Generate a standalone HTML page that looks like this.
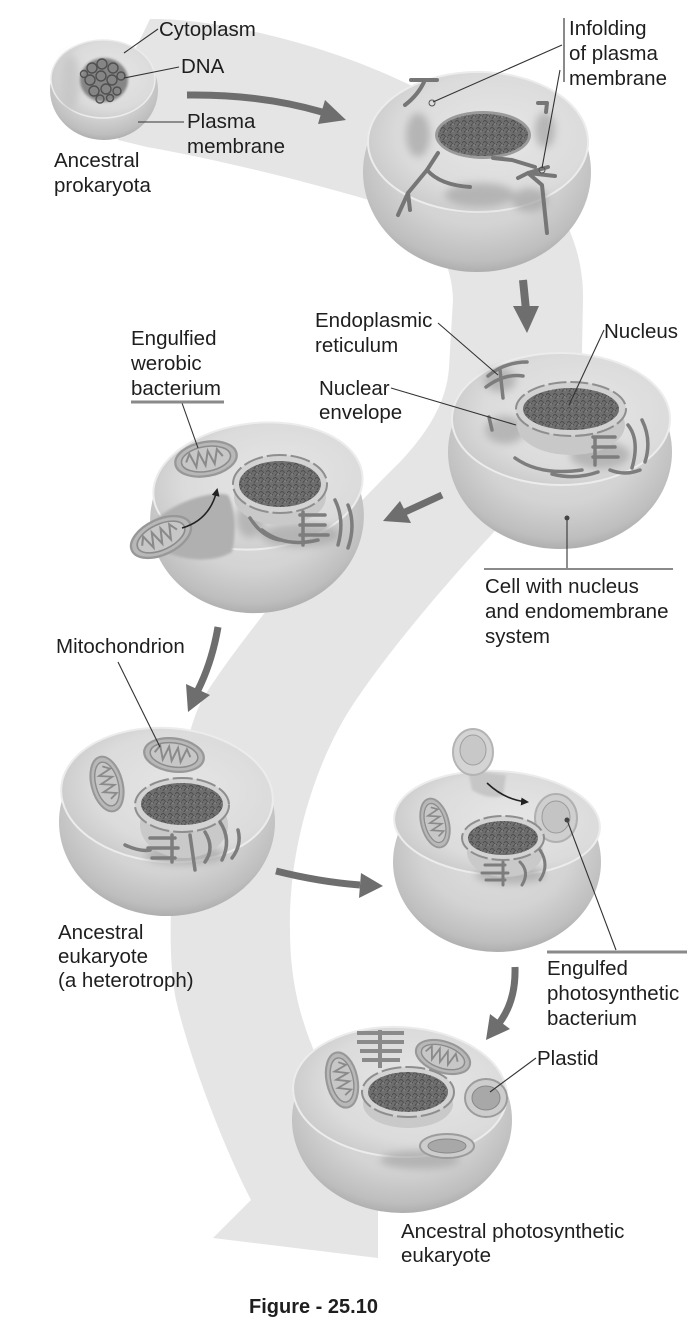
<!DOCTYPE html>
<html><head><meta charset="utf-8">
<style>
html,body{margin:0;padding:0;background:#fff;}
svg{display:block}
text{font-family:"Liberation Sans",Arial,sans-serif;font-size:20.5px;fill:#1e1e1e;}
</style></head><body>
<svg width="697" height="1321" viewBox="0 0 697 1321" xmlns="http://www.w3.org/2000/svg">
<defs>
 <radialGradient id="body" cx="0.5" cy="0.4" r="0.62">
  <stop offset="0" stop-color="#e2e2e2"/>
  <stop offset="0.6" stop-color="#d3d3d3"/>
  <stop offset="0.88" stop-color="#bebebe"/>
  <stop offset="1" stop-color="#a9a9a9"/>
 </radialGradient>
 <radialGradient id="face" cx="0.58" cy="0.45" r="0.62">
  <stop offset="0" stop-color="#e6e6e6"/>
  <stop offset="0.7" stop-color="#dbdbdb"/>
  <stop offset="1" stop-color="#c9c9c9"/>
 </radialGradient>
 <pattern id="tex" width="7" height="7" patternUnits="userSpaceOnUse">
  <rect width="7" height="7" fill="#6e6e6e"/>
  <path d="M0,3 q2,-3 4,0 t3,1 M2,7 q1,-3 3,-2" stroke="#4c4c4c" stroke-width="0.9" fill="none"/>
  <circle cx="5" cy="5" r="0.9" fill="#8c8c8c"/>
 </pattern>
 <filter id="blur" x="-50%" y="-50%" width="200%" height="200%"><feGaussianBlur stdDeviation="4"/></filter>
 <filter id="blur2" x="-50%" y="-50%" width="200%" height="200%"><feGaussianBlur stdDeviation="1.2"/></filter>
 <marker id="ah" markerWidth="8" markerHeight="8" refX="6" refY="4" orient="auto" markerUnits="userSpaceOnUse">
  <path d="M0,0 L8,4 L0,8 Z" fill="#222"/>
 </marker>
 <g id="mito">
  <ellipse rx="20" ry="11" fill="#b8b8b8" stroke="#989898" stroke-width="1.5"/>
  <ellipse rx="16" ry="8" fill="#c7c7c7" stroke="#8c8c8c" stroke-width="1"/>
  <path d="M-13,0 l3,-5 l3,9 l3,-9 l3,9 l3,-9 l3,9 l3,-9 l3,5" stroke="#8a8a8a" stroke-width="1.3" fill="none"/>
 </g>
</defs>

<!-- background band -->
<path fill="#e5e5e5" d="M150,19 C200,18 300,35 395,78 C500,125 585,200 583,300 L582,350 C582,420 540,480 493,533 C440,590 390,650 356,700 C315,760 288,850 290,930 C290,980 300,1020 318,1060 C345,1110 378,1160 378,1200 L378,1258 L213,1238 L251,1200 C225,1150 190,1060 176,1000 C168,960 170,900 175,850 C180,760 190,720 205,695 C240,640 320,540 400,462 C430,430 447,400 449,367 L453,300 C452,250 420,215 369,200 C300,180 220,160 147,147 L118,140 L130,60 Z"/>

<!-- ===== Cell 1 prokaryote ===== -->
<ellipse cx="104" cy="90" rx="54" ry="50" fill="url(#body)"/>
<ellipse cx="103" cy="79" rx="52" ry="39" fill="url(#face)" stroke="#ececec" stroke-width="1.5"/>
<ellipse cx="70" cy="82" rx="10" ry="28" fill="#c4c4c4" filter="url(#blur)" opacity="0.8"/>
<ellipse cx="104" cy="80" rx="24" ry="22" fill="#858585" filter="url(#blur2)"/>
<g stroke="#505050" stroke-width="1.4" fill="none">
 <circle cx="92" cy="68" r="5"/><circle cx="102" cy="64" r="5"/><circle cx="113" cy="68" r="5"/>
 <circle cx="90" cy="80" r="5"/><circle cx="101" cy="76" r="5"/><circle cx="112" cy="80" r="5"/><circle cx="121" cy="76" r="4"/>
 <circle cx="94" cy="91" r="5"/><circle cx="106" cy="89" r="5"/><circle cx="117" cy="91" r="4"/>
 <circle cx="100" cy="99" r="4"/><circle cx="84" cy="74" r="3.5"/><circle cx="110" cy="98" r="3.5"/>
</g>

<!-- ===== Cell 2 infolding ===== -->
<ellipse cx="477" cy="172" rx="114" ry="100" fill="url(#body)"/>
<ellipse cx="478" cy="142" rx="110" ry="70" fill="url(#face)" stroke="#ececec" stroke-width="2"/>
<g filter="url(#blur)" fill="#a8a8a8" opacity="0.75">
 <ellipse cx="418" cy="135" rx="12" ry="22"/>
 <ellipse cx="545" cy="130" rx="10" ry="18"/>
 <ellipse cx="480" cy="195" rx="35" ry="12"/>
 <ellipse cx="530" cy="200" rx="18" ry="12"/>
</g>
<ellipse cx="483" cy="135" rx="48" ry="24" fill="#9a9a9a"/>
<ellipse cx="483" cy="135" rx="45" ry="21" fill="url(#tex)"/>
<g stroke="#767676" stroke-width="4" fill="none" stroke-linecap="round" stroke-linejoin="round">
 <path d="M411,80 L437,80 M424,82 Q418,95 405,105"/>
 <path d="M438,153 L427,170 L408,193 L410,210"/>
 <path d="M427,170 Q440,185 470,187"/>
 <path d="M493,158 L512,160 L535,167"/>
 <path d="M518,178 L528,173 L548,167 M528,173 L555,176 M528,173 L542,185 L547,233"/>
 <path d="M538,103 L547,103 L546,112"/>
 <path d="M408,193 L398,215"/>
</g>
<circle cx="432" cy="103" r="3" fill="none" stroke="#555" stroke-width="1"/>
<circle cx="542" cy="170" r="3" fill="none" stroke="#555" stroke-width="1"/>

<!-- ===== Cell 3 nucleus & endomembrane ===== -->
<ellipse cx="560" cy="452" rx="112" ry="97" fill="url(#body)"/>
<ellipse cx="561" cy="419" rx="109" ry="66" fill="url(#face)" stroke="#ececec" stroke-width="2"/>
<g filter="url(#blur)" fill="#a6a6a6" opacity="0.7">
 <ellipse cx="505" cy="430" rx="20" ry="14"/>
 <ellipse cx="600" cy="455" rx="30" ry="14"/>
 <ellipse cx="500" cy="380" rx="16" ry="12"/>
</g>
<ellipse cx="571" cy="425" rx="54" ry="30" fill="#c8c8c8"/>
<ellipse cx="571" cy="409" rx="55" ry="27" fill="#d2d2d2" stroke="#8e8e8e" stroke-width="2" stroke-dasharray="18 4"/>
<ellipse cx="571" cy="409" rx="48" ry="21" fill="url(#tex)"/>
<g stroke="#7d7d7d" stroke-width="3.5" fill="none" stroke-linecap="round">
 <path d="M488,376 Q505,362 527,362"/>
 <path d="M486,387 Q505,373 523,376"/>
 <path d="M500,370 L503,398"/>
 <path d="M489,417 L492,430"/>
 <path d="M515,458 Q540,476 582,470"/>
 <path d="M552,474 Q575,480 598,472"/>
 <path d="M593,437 L615,437 M593,447 L615,447 M593,457 L618,457 M595,437 L595,465"/>
 <path d="M628,425 Q640,440 632,468 M642,420 Q652,440 645,462"/>
 <path d="M610,470 Q625,476 640,470"/>
</g>

<!-- ===== Cell 4 engulfing aerobic bacterium ===== -->
<ellipse cx="257" cy="518" rx="107" ry="95" fill="url(#body)" transform="rotate(-6 257 518)"/>
<ellipse cx="258" cy="486" rx="105" ry="63" fill="url(#face)" stroke="#ececec" stroke-width="2" transform="rotate(-6 258 486)"/>
<path d="M152,522 C175,502 210,490 228,495 C236,510 236,535 232,552 C215,562 190,562 165,552 Z" fill="#b0b0b0" filter="url(#blur2)"/>
<g filter="url(#blur)" fill="#a6a6a6" opacity="0.7">
 <ellipse cx="300" cy="535" rx="40" ry="12"/>
 <ellipse cx="250" cy="520" rx="14" ry="18"/>
</g>
<ellipse cx="280" cy="497" rx="46" ry="28" fill="#c9c9c9"/>
<ellipse cx="280" cy="484" rx="47" ry="29" fill="#d3d3d3" stroke="#8e8e8e" stroke-width="2" stroke-dasharray="20 4"/>
<ellipse cx="280" cy="484" rx="41" ry="23" fill="url(#tex)"/>
<g stroke="#7d7d7d" stroke-width="3.5" fill="none" stroke-linecap="round">
 <path d="M262,530 Q285,548 318,540"/>
 <path d="M250,518 Q262,537 280,540"/>
 <path d="M300,515 L325,515 M300,525 L325,525 M300,535 L328,535 M303,512 L303,545"/>
 <path d="M335,500 Q345,520 338,545 M348,505 Q356,525 348,548"/>
</g>
<g transform="translate(206,459) rotate(-10) scale(1.55)"><use href="#mito"/></g>
<g transform="translate(161,537) rotate(-25) scale(1.6)"><use href="#mito"/></g>
<path d="M182,528 Q210,520 217,490" stroke="#222" stroke-width="1.6" fill="none" marker-end="url(#ah)"/>

<!-- ===== Cell 5 ancestral eukaryote ===== -->
<ellipse cx="167" cy="822" rx="108" ry="94" fill="url(#body)"/>
<ellipse cx="167" cy="795" rx="106" ry="67" fill="url(#face)" stroke="#ececec" stroke-width="2" transform="rotate(4 167 795)"/>
<g filter="url(#blur)" fill="#a6a6a6" opacity="0.7">
 <ellipse cx="185" cy="855" rx="40" ry="10"/>
</g>
<g transform="translate(107,784) rotate(75) scale(1.4)"><use href="#mito"/></g>
<g transform="translate(174,755) rotate(8) scale(1.5)"><use href="#mito"/></g>
<ellipse cx="184" cy="825" rx="44" ry="33" fill="#c9c9c9"/>
<ellipse cx="182" cy="805" rx="47" ry="27" fill="#d3d3d3" stroke="#8e8e8e" stroke-width="2" stroke-dasharray="20 4"/>
<ellipse cx="182" cy="804" rx="41" ry="21" fill="url(#tex)"/>
<g stroke="#7d7d7d" stroke-width="3.5" fill="none" stroke-linecap="round">
 <path d="M150,838 L175,838 M148,848 L178,848 M152,858 L175,858 M172,835 L172,862"/>
 <path d="M190,835 L195,870 M205,832 Q215,848 205,862"/>
 <path d="M220,822 Q232,840 222,860 M238,830 Q242,845 232,858"/>
 <path d="M125,845 Q140,852 150,850"/>
</g>

<!-- ===== Cell 6 engulfing photosynthetic bacterium ===== -->
<ellipse cx="497" cy="862" rx="104" ry="90" fill="url(#body)"/>
<ellipse cx="497" cy="823" rx="103" ry="52" fill="url(#face)" stroke="#ececec" stroke-width="2" transform="rotate(3 497 823)"/>
<path d="M468,770 L506,775 L503,796 Q488,800 472,790 Z" fill="#c6c6c6" filter="url(#blur2)"/>
<g filter="url(#blur)" fill="#a6a6a6" opacity="0.7">
 <ellipse cx="510" cy="875" rx="35" ry="9"/>
</g>
<g transform="translate(435,823) rotate(75) scale(1.25)"><use href="#mito"/></g>
<ellipse cx="556" cy="818" rx="21" ry="24" fill="#cfcfcf" stroke="#b0b0b0" stroke-width="2"/>
<ellipse cx="556" cy="817" rx="14" ry="16" fill="#c4c4c4" stroke="#9a9a9a" stroke-width="1"/>
<ellipse cx="505" cy="852" rx="38" ry="25" fill="#c9c9c9"/>
<ellipse cx="503" cy="838" rx="41" ry="22" fill="#d3d3d3" stroke="#8e8e8e" stroke-width="2" stroke-dasharray="18 4"/>
<ellipse cx="503" cy="838" rx="35" ry="17" fill="url(#tex)"/>
<g stroke="#7d7d7d" stroke-width="3" fill="none" stroke-linecap="round">
 <path d="M485,865 L505,865 M482,873 L508,873 M486,880 L505,880 M503,862 L503,885"/>
 <path d="M520,862 Q530,872 522,885 M540,850 Q550,865 540,880"/>
</g>
<ellipse cx="473" cy="752" rx="20" ry="23" fill="#d4d4d4" stroke="#b4b4b4" stroke-width="2"/>
<ellipse cx="473" cy="750" rx="13" ry="15" fill="#c8c8c8" stroke="#9e9e9e" stroke-width="1"/>
<path d="M487,783 Q505,800 527,802" stroke="#222" stroke-width="1.6" fill="none" marker-end="url(#ah)"/>

<!-- ===== Cell 7 photosynthetic eukaryote ===== -->
<ellipse cx="402" cy="1120" rx="110" ry="93" fill="url(#body)"/>
<ellipse cx="400" cy="1092" rx="107" ry="65" fill="url(#face)" stroke="#ececec" stroke-width="2" transform="rotate(3 400 1092)"/>
<g filter="url(#blur)" fill="#a6a6a6" opacity="0.7">
 <ellipse cx="420" cy="1160" rx="40" ry="9"/>
</g>
<g stroke="#8a8a8a" stroke-width="4" fill="none">
 <path d="M357,1033 L404,1033 M357,1042 L404,1042 M360,1051 L402,1051 M362,1060 L400,1060 M380,1030 L380,1068"/>
</g>
<g transform="translate(342,1080) rotate(78) scale(1.4)"><use href="#mito"/></g>
<g transform="translate(443,1057) rotate(18) scale(1.4)"><use href="#mito"/></g>
<ellipse cx="486" cy="1098" rx="21" ry="19" fill="#cdcdcd" stroke="#9c9c9c" stroke-width="2"/>
<ellipse cx="486" cy="1098" rx="14" ry="12" fill="#a8a8a8" stroke="#888" stroke-width="1"/>
<ellipse cx="447" cy="1146" rx="27" ry="12" fill="#cdcdcd" stroke="#9c9c9c" stroke-width="2"/>
<ellipse cx="447" cy="1146" rx="19" ry="7" fill="#a8a8a8" stroke="#888" stroke-width="1"/>
<ellipse cx="408" cy="1104" rx="45" ry="24" fill="#c9c9c9"/>
<ellipse cx="408" cy="1092" rx="46" ry="25" fill="#d3d3d3" stroke="#8e8e8e" stroke-width="2" stroke-dasharray="20 4"/>
<ellipse cx="408" cy="1092" rx="40" ry="20" fill="url(#tex)"/>

<!-- ===== thick gray arrows ===== -->
<g fill="none" stroke="#6e6e6e" stroke-width="7">
 <path d="M187,95 Q260,94 322,112"/>
 <path d="M523,280 L526,310" stroke-width="8"/>
 <path d="M442,495 L405,512"/>
 <path d="M218,627 Q212,662 198,690"/>
 <path d="M276,871 Q320,882 360,885"/>
 <path d="M515,967 Q516,1000 500,1022"/>
</g>
<g fill="#6e6e6e">
 <polygon points="346,120 325,100 318,124"/>
 <polygon points="513,306 539,306 527,333"/>
 <polygon points="383,521 411,523 400,501"/>
 <polygon points="188,712 210,695 186,684"/>
 <polygon points="383,886 361,873 359,898"/>
 <polygon points="486,1040 510,1029 490,1014"/>
</g>

<!-- ===== leader lines ===== -->
<g stroke="#333" stroke-width="1.1" fill="none">
 <path d="M158,29 L124,53"/>
 <path d="M179,67 L124,78"/>
 <path d="M138,122 L184,122"/>
 <path d="M562,45 L433,102"/>
 <path d="M560,70 L542,168"/>
 <path d="M438,323 L498,375"/>
 <path d="M391,388 L516,425"/>
 <path d="M604,330 L569,405"/>
 <path d="M182,403 L198,448"/>
 <path d="M567,518 L567,568"/>
 <path d="M118,662 L160,747"/>
 <path d="M567,820 L616,950"/>
 <path d="M536,1058 L490,1092"/>
</g>
<circle cx="567" cy="518" r="2.5" fill="#444"/>
<circle cx="567" cy="820" r="2.5" fill="#444"/>
<g stroke="#8a8a8a" fill="none">
 <path d="M564,18 L564,82" stroke-width="2"/>
 <path d="M131,402 L224,402" stroke-width="3"/>
 <path d="M484,569 L673,569" stroke-width="2"/>
 <path d="M547,952 L687,952" stroke-width="3"/>
</g>

<!-- ===== labels ===== -->
<text x="159" y="36">Cytoplasm</text>
<text x="181" y="73">DNA</text>
<text x="187" y="128">Plasma</text>
<text x="187" y="153">membrane</text>
<text x="54" y="167">Ancestral</text>
<text x="54" y="192">prokaryota</text>
<text x="569" y="35">Infolding</text>
<text x="569" y="60">of plasma</text>
<text x="569" y="85">membrane</text>
<text x="315" y="327">Endoplasmic</text>
<text x="315" y="352">reticulum</text>
<text x="604" y="338">Nucleus</text>
<text x="131" y="345">Engulfied</text>
<text x="131" y="370">werobic</text>
<text x="131" y="395">bacterium</text>
<text x="319" y="395">Nuclear</text>
<text x="319" y="419">envelope</text>
<text x="485" y="593">Cell with nucleus</text>
<text x="485" y="618">and endomembrane</text>
<text x="485" y="643">system</text>
<text x="56" y="653">Mitochondrion</text>
<text x="58" y="939">Ancestral</text>
<text x="58" y="963">eukaryote</text>
<text x="58" y="987">(a heterotroph)</text>
<text x="547" y="975">Engulfed</text>
<text x="547" y="1000">photosynthetic</text>
<text x="547" y="1025">bacterium</text>
<text x="537" y="1065">Plastid</text>
<text x="401" y="1238">Ancestral photosynthetic</text>
<text x="401" y="1262">eukaryote</text>
<text x="249" y="1313" style="font-weight:bold;font-size:20px">Figure - 25.10</text>
</svg>
</body></html>
